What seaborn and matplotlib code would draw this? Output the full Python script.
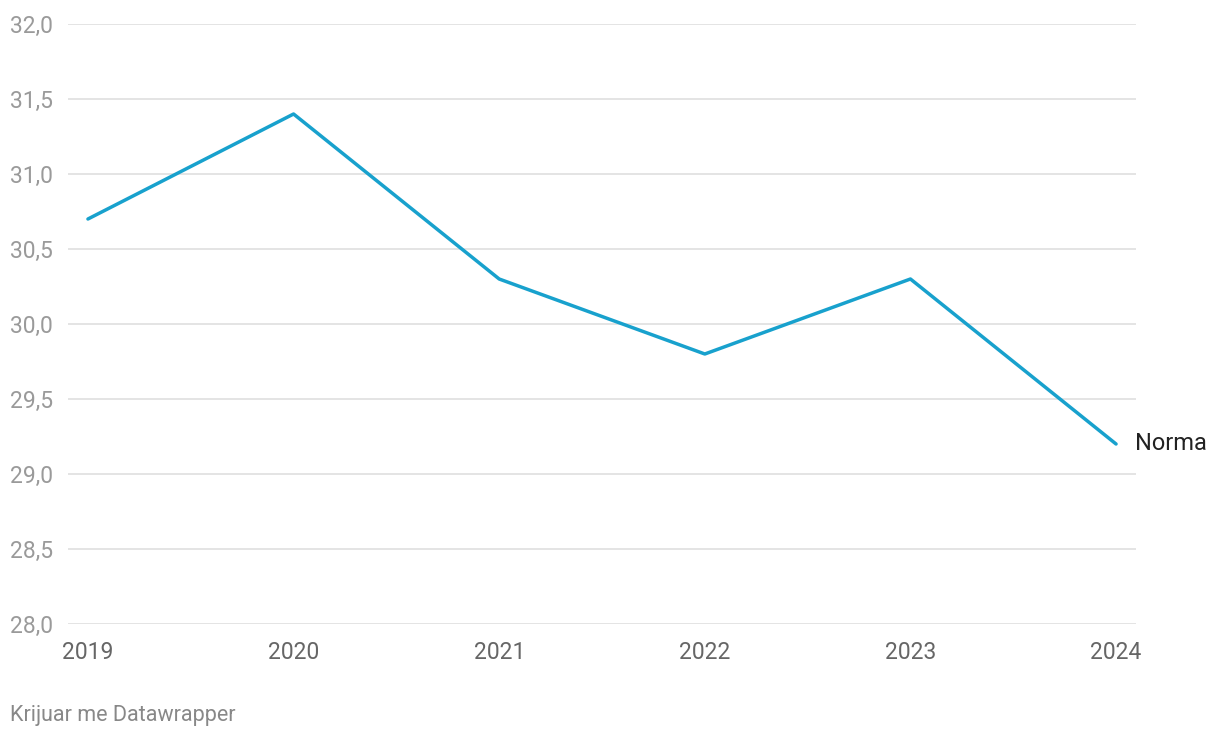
import pandas as pd
import matplotlib.pyplot as plt
import seaborn as sns

years = [2019, 2020, 2021, 2022, 2023, 2024]
values = [30.7, 31.4, 30.3, 29.8, 30.3, 29.2]
series_name = 'Norma'
y_ticks = [28.0, 28.5, 29.0, 29.5, 30.0, 30.5, 31.0, 31.5, 32.0]

df = pd.DataFrame({'year': years, 'value': values})

sns.set_style('white')
plt.rcParams['font.family'] = ['Roboto', 'DejaVu Sans']

fig = plt.figure(figsize=(12.2, 7.4), dpi=100)
ax = fig.add_axes([68 / 1220, 1 - 624 / 740, (1136 - 68) / 1220, 600 / 740])

sns.lineplot(x='year', y='value', data=df, ax=ax, color='#18a1cd', linewidth=2.5)

ax.set_xlim(2018.903, 2024.097)
ax.set_ylim(28, 32)
ax.set_yticks(y_ticks)
ax.set_yticklabels([f'{v:.1f}'.replace('.', ',') for v in y_ticks])
ax.set_xticks(years)
ax.set_xticklabels([str(y) for y in years])
ax.grid(axis='y', color='#e2e2e2', linewidth=1.3)
ax.set_axisbelow(True)
for s in ax.spines.values():
    s.set_visible(False)

ax.tick_params(axis='y', length=0, pad=58 * 0.72, labelsize=16.5, labelcolor='#9a9a9a')
for lbl in ax.get_yticklabels():
    lbl.set_horizontalalignment('left')
ax.tick_params(axis='x', length=0, pad=12, labelsize=16.5, labelcolor='#666666')
ax.set_xlabel('')
ax.set_ylabel('')

ax.annotate(series_name, xy=(years[-1], values[-1]), xytext=(14, 0),
            textcoords='offset points', va='center', ha='left',
            fontsize=17, color='#222222', annotation_clip=False)

fig.text(10 / 1220, 1 - 716 / 740, 'Krijuar me Datawrapper', fontsize=15.5,
         color='#888888', va='center', ha='left')

fig.savefig('out.png', dpi=100)
